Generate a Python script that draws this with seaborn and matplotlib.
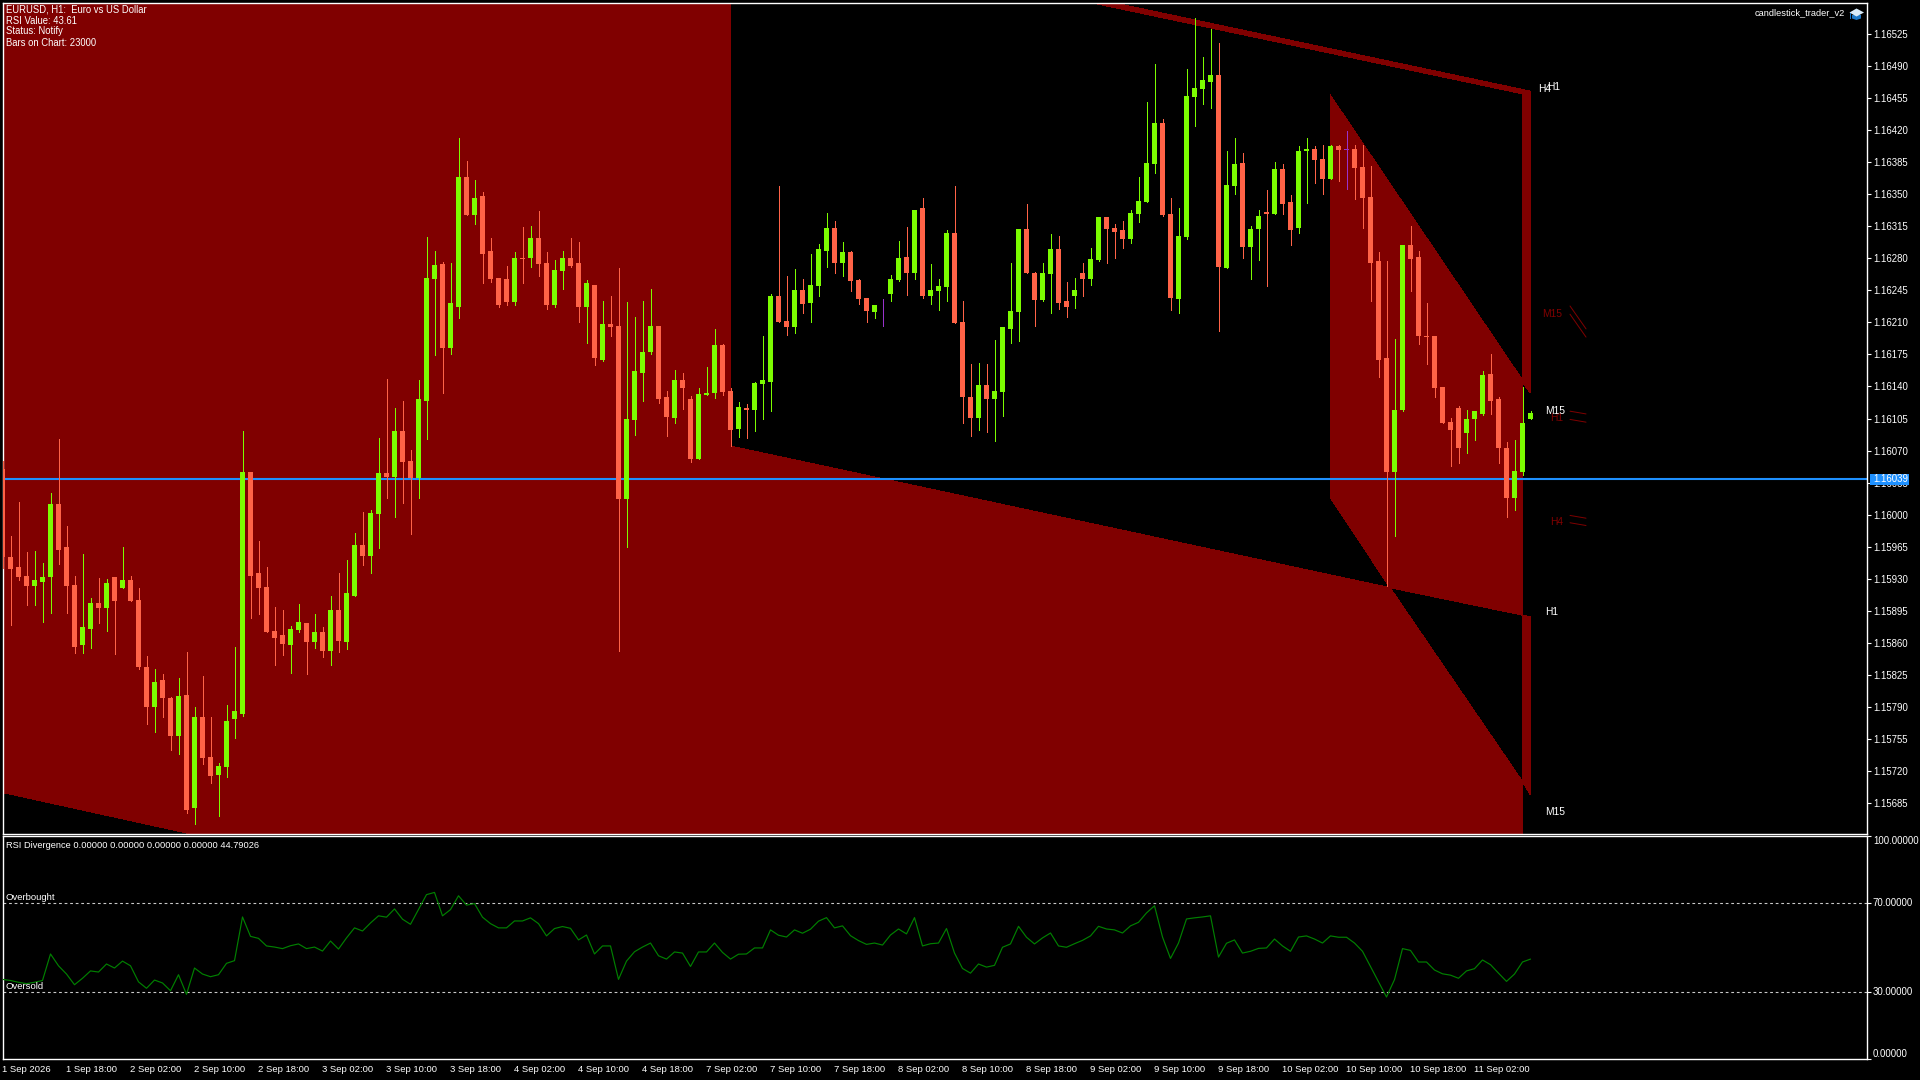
import numpy as np
import pandas as pd
import matplotlib
matplotlib.use("Agg")
import matplotlib.pyplot as plt
from matplotlib.patches import Polygon, Rectangle
import seaborn as sns

# ---- data (prices in points, 1 point = 0.00001) ----
highs = [116059,115977,116014,115959,115960,115947,116024,116083,115988,115933,
115957,115909,115931,115929,115932,115964,115933,115920,115845,115831,
115826,115800,115821,115850,115790,115823,115779,115728,115792,115855,
116091,116046,115971,115943,115899,115896,115878,115902,115881,115891,
115877,115911,115936,115950,115980,116003,116005,116084,116148,116116,
116124,116071,116147,116303,116288,116276,116275,116412,116387,116366,
116353,116302,116259,116272,116287,116314,116316,116332,116287,116278,
116288,116302,116298,116256,116251,116233,116239,116270,116232,116216,
116233,116247,116206,116135,116158,116155,116130,116138,116161,116203,
116187,116138,116123,116121,116145,116195,116241,116359,116261,116268,
116257,116285,116296,116330,116321,116298,116288,116258,116237,116229,
116236,116262,116299,116314,116333,116346,116274,116258,116311,116359,
116234,116165,116166,116165,116191,116205,116275,116312,116339,116265,
116275,116307,116305,116254,116259,116275,116291,116325,116325,116318,
116321,116333,116369,116451,116493,116433,116346,116335,116487,116543,
116500,116531,116516,116398,116412,116395,116316,116333,116355,116385,
116383,116349,116403,116412,116403,116404,116404,116404,116419,116404,
116404,116381,116287,116277,116192,116295,116316,116288,116231,116195,
116139,116106,116119,116114,116113,116157,116176,116128,116079,116081,116139,116113]
lows = [115942,115879,115928,115901,115901,115882,115892,115946,115892,115849,
115849,115854,115881,115873,115847,115920,115905,115831,115771,115762,
115779,115742,115738,115674,115662,115727,115706,115670,115713,115756,
115780,115887,115891,115872,115835,115846,115827,115872,115826,115854,
115844,115836,115850,115853,115911,115945,115936,115963,116018,115997,
116013,115979,116018,116083,116174,116133,116175,116215,116327,116318,
116253,116254,116227,116229,116229,116253,116271,116261,116225,116227,
116247,116271,116211,116188,116163,116168,116195,115851,115964,116087,
116124,116176,116122,116086,116100,116115,116057,116061,116131,116127,
116131,116075,116085,116084,116091,116104,116113,116210,116196,116199,
116220,116210,116239,116271,116264,116261,116244,116230,116211,116215,
116206,116234,116255,116240,116258,116237,116230,116224,116234,116209,
116100,116086,116092,116090,116080,116108,116188,116190,116264,116206,
116234,116220,116225,116216,116226,116239,116251,116277,116275,116280,
116291,116297,116320,116342,116373,116326,116224,116220,116301,116425,
116449,116445,116201,116270,116350,116281,116258,116278,116250,116329,
116329,116295,116308,116341,116363,116351,116367,116365,116356,116345,
116313,116234,116150,115922,115977,116113,116244,116186,116165,116128,
116100,116053,116056,116067,116082,116109,116110,116056,115997,116005,116043,116104]
opens = [116050,115954,115943,115933,115922,115926,115932,116011,115964,115923,
115857,115875,115903,115898,115932,115920,115928,115907,115833,115790,
115819,115799,115758,115803,115679,115779,115735,115715,115724,115776,
115782,116046,115936,115921,115873,115868,115857,115874,115881,115861,
115872,115851,115896,115861,115911,115967,115955,116001,116045,116041,
116091,116058,116040,116124,116258,116274,116182,116227,116369,116328,
116348,116288,116259,116257,116232,116281,116280,116302,116275,116229,
116266,116281,116275,116227,116251,116169,116208,116206,116017,116103,
116155,116178,116206,116129,116106,116147,116126,116061,116131,116133,
116185,116135,116093,116117,116114,116143,116145,116239,116212,116205,
116246,116231,116250,116288,116313,116275,116287,116256,116237,116221,
116222,116241,116256,116282,116264,116335,116239,116244,116249,116308,
116210,116129,116106,116142,116126,116134,116203,116221,116312,116264,
116235,116263,116290,116234,116239,116264,116258,116278,116325,116313,
116311,116301,116329,116342,116383,116428,116329,116236,116303,116457,
116465,116473,116481,116270,116359,116384,116293,116312,116331,116329,
116378,116342,116313,116397,116400,116389,116367,116403,116399,116400,
116380,116347,116277,116171,116046,116114,116295,116282,116195,116195,
116139,116101,116117,116089,116104,116110,116154,116126,116073,116018,116047,116104]
closes = [115954,115940,115932,115922,115928,115932,116012,115961,115922,115855,
115877,115903,115898,115925,115905,115928,115905,115833,115790,115817,
115799,115758,115802,115677,115779,115734,115714,115725,115774,115785,
116046,115933,115920,115872,115865,115858,115875,115883,115861,115872,
115851,115896,115862,115914,115967,115955,116002,116045,116041,116091,
116057,116040,116126,116259,116273,116182,116231,116369,116328,116346,
116285,116257,116229,116232,116281,116279,116302,116274,116229,116267,
116280,116272,116227,116253,116171,116208,116205,116017,116104,116157,
116178,116206,116126,116107,116147,116138,116061,116132,116133,116185,
116134,116092,116118,116114,116144,116147,116239,116210,116205,116246,
116230,116251,116290,116313,116275,116287,116255,116236,116222,116229,
116222,116257,116280,116264,116333,116239,116246,116250,116308,116209,
116128,116106,116142,116126,116135,116205,116222,116312,116264,116235,
116264,116290,116231,116227,116245,116258,116279,116325,116312,116309,
116301,116330,116343,116384,116428,116327,116237,116304,116458,116466,
116475,116481,116271,116360,116383,116293,116312,116326,116329,116378,
116339,116311,116397,116400,116388,116367,116403,116399,116399,116379,
116346,116275,116169,116046,116114,116295,116279,116195,116194,116138,
116100,116092,116073,116104,116113,116153,116124,116073,116018,116048,116100,116111]
rsi = [35.7,35.2,34.4,33.8,34.4,35.2,47.1,41.8,38.1,33.3,36.2,39.5,39.0,42.6,40.8,43.9,41.8,34.6,31.7,35.4,
34.1,30.6,37.8,29.0,40.8,38.1,36.9,37.8,42.9,44.1,63.7,55.0,54.1,50.7,50.2,49.5,50.8,51.6,49.5,50.2,
48.4,52.9,49.3,54.3,58.8,57.4,61.0,64.2,63.6,67.3,62.7,60.4,67.0,73.7,74.7,64.2,67.0,73.2,69.0,69.7,
63.6,60.7,58.8,58.8,61.9,61.9,63.3,60.7,55.2,58.5,59.4,58.6,53.4,55.6,47.1,50.7,50.7,35.7,43.9,48.1,
50.2,52.0,46.3,44.8,48.0,47.5,41.5,48.0,48.0,52.0,47.8,44.8,47.0,47.1,49.8,49.8,57.9,
55.5,54.7,57.9,56.4,58.2,61.8,63.4,58.8,59.7,55.3,53.1,51.4,52.0,51.1,55.6,58.3,56.1,63.4,50.7,51.7,
52.0,58.5,47.5,40.6,38.5,42.6,41.2,42.0,50.1,51.6,59.5,54.6,51.6,54.3,56.5,50.7,50.1,51.7,53.2,55.2,
59.5,58.3,57.9,56.5,59.7,61.3,65.5,68.7,54.7,45.1,52.0,62.8,63.3,63.7,64.2,45.7,51.9,53.4,47.5,48.3,
49.6,49.8,53.8,50.7,48.3,54.7,55.2,53.8,52.0,55.2,54.6,54.6,52.0,48.3,41.5,34.8,27.8,35.6,49.5,48.7,
43.5,43.5,39.9,38.2,37.6,36.2,39.5,40.5,44.4,42.3,38.5,34.8,38.1,43.5,44.8]
time_labels = ["1 Sep 2026","1 Sep 18:00","2 Sep 02:00","2 Sep 10:00","2 Sep 18:00","3 Sep 02:00",
"3 Sep 10:00","3 Sep 18:00","4 Sep 02:00","4 Sep 10:00","4 Sep 18:00","7 Sep 02:00","7 Sep 10:00",
"7 Sep 18:00","8 Sep 02:00","8 Sep 10:00","8 Sep 18:00","9 Sep 02:00","9 Sep 10:00","9 Sep 18:00",
"10 Sep 02:00","10 Sep 10:00","10 Sep 18:00","11 Sep 02:00"]
price_ticks = [116525 - 35*k for k in range(25)]
rsi_ticks = [100, 70, 30, 0]
bid = 116039

# channel regions as (bar, points)
region_main = ([0.06,90.94,90.94,173.44,190,190,23.44,0.06],
               [116559,116559,116075,115920,115708,115640,115651,115696])
region_m15 = ([165.94,190,190,173.44,165.94],[116459,116147,115890,115920,116019])
region_top = ([136.44,139.2,190.94,190],[116559,116559,116463,116460])
region_strip_up = ([190,190.94,190.94,190],[116460,116463,116133,116145])
region_strip_dn = ([190,190.94,190.94,190],[115890,115888,115694,115708])
mini_lines = [([195.94,197.94],[116228,116203]),([195.94,197.94],[116219,116194]),
              ([195.94,197.94],[116113,116110]),([195.94,197.94],[116104,116101]),
              ([195.94,197.94],[115999,115996]),([195.94,197.94],[115991,115988])]
dark_labels = [("M15",192.44,116219),("H1",193.44,116106),("H4",193.44,115992)]
white_labels = [("H4",191.94,116465),("H1",193.06,116467),("M15",192.85,116113),
                ("H1",192.85,115893),("M15",192.85,115675)]

BULL, BEAR, DOJI, RED = "#7CFC00", "#FF6347", "#9932CC", "#800000"
W, H = 1920, 1080
FONT = "Liberation Sans"

sns.set_theme(style="dark", rc={"axes.facecolor":"black","figure.facecolor":"black",
                                "text.color":"white","xtick.color":"white","ytick.color":"white"})
plt.rcParams["font.family"] = [FONT, "DejaVu Sans"]

fig = plt.figure(figsize=(W/100, H/100), dpi=100)
def box(l, t, r, b):
    return [l/W, 1-b/H, (r-l)/W, (b-t)/H]
ax = fig.add_axes(box(2.5, 3, 1867, 834))
ax2 = fig.add_axes(box(2.5, 836, 1867, 1059))
XMAX = (1867-2.5)/8

df = pd.DataFrame({"bar":np.arange(len(opens)),"o":np.array(opens)/1e5,"h":np.array(highs)/1e5,
                   "l":np.array(lows)/1e5,"c":np.array(closes)/1e5})
df["color"] = np.where(df.c > df.o, BULL, np.where(df.c < df.o, BEAR, DOJI))
df["top"] = df[["o","c"]].max(axis=1)
df["bot"] = df[["o","c"]].min(axis=1)

for reg in (region_main, region_m15, region_top, region_strip_up, region_strip_dn):
    ax.fill(reg[0], np.array(reg[1])/1e5, color=RED, lw=0, zorder=1, antialiased=False)

ax.axhline(bid/1e5, color="#1E90FF", lw=1.5, zorder=2)
ax.vlines(df.bar, df.l, df.h, colors=df.color, lw=0.72, zorder=3, antialiased=False)
ax.bar(df.bar, np.maximum(df.top-df.bot, 1.0e-5), bottom=df.bot, width=5/8, color=df.color,
       lw=0, zorder=4, antialiased=False)

for xs, ys in mini_lines:
    ax.plot(xs, np.array(ys)/1e5, color=RED, lw=0.7, zorder=2, clip_on=False)
for s, x, y in dark_labels:
    ax.text(x, y/1e5, s, color=RED, fontsize=7.4, va="center", ha="left", zorder=5)
for s, x, y in white_labels:
    ax.text(x, y/1e5, s, color="white", fontsize=7.4, va="center", ha="left", zorder=6)

ax.set_xlim(0, XMAX)
ax.set_ylim(115650.7/1e5, 116559.3/1e5)
ax.set_xticks([])
ax.yaxis.tick_right()
ax.set_yticks(np.array(price_ticks)/1e5)
ax.set_yticklabels([f"{p/1e5:.5f}" for p in price_ticks], fontsize=6.9)
ax.tick_params(axis="y", length=3.2, width=0.8, pad=1.0, color="white")

# price tag
fig.add_artist(Rectangle((1870/W, 1-484.5/H), 39/W, 10/H, transform=fig.transFigure, color="#1E90FF", lw=0))
fig.text(1873/W, 1-479.5/H, f"{bid/1e5:.5f}", color="white", fontsize=6.9, va="center", ha="left")

# RSI panel
sns.lineplot(x=np.arange(len(rsi)), y=rsi, ax=ax2, color="#008000", lw=0.85, errorbar=None, zorder=3)
for lvl in (70, 30):
    ax2.axhline(lvl, color="#C8C8C8", lw=0.8, ls=(0, (2.5, 2.5)), zorder=2)
ax2.set_xlim(0, XMAX)
ax2.set_ylim(0, 100)
ax2.set_xlabel(""); ax2.set_ylabel("")
ax2.yaxis.tick_right()
ax2.set_yticks(rsi_ticks)
ax2.set_yticklabels([f"{v:.5f}" for v in rsi_ticks], fontsize=6.9)
for lab, v in zip(ax2.get_yticklabels(), rsi_ticks):
    lab.set_va("top" if v == 100 else ("bottom" if v == 0 else "center"))
ax2.tick_params(axis="y", length=3.2, width=0.8, pad=1.0, color="white")
ax2.set_xticks(np.arange(0, len(time_labels)*8, 8))
ax2.set_xticklabels(time_labels, fontsize=6.8, ha="left")
ax2.tick_params(axis="x", length=3.2, width=0.8, pad=1.0, color="white")
for a in (ax, ax2):
    a.grid(False)
    for sp in a.spines.values():
        sp.set_color("white"); sp.set_linewidth(1.0); sp.set_visible(True)

# texts
for s, y in zip(["EURUSD, H1:  Euro vs US Dollar","RSI Value: 43.61","Status: Notify","Bars on Chart: 23000"],
                [9.5, 20.5, 31.5, 42.5]):
    fig.text(6.5/W, 1-y/H, s, color="white", fontsize=6.85, va="center", ha="left")
fig.text(5.5/W, 1-845.7/H, "RSI Divergence 0.00000 0.00000 0.00000 0.00000 44.79026", color="white",
         fontsize=6.7, va="center", ha="left")
fig.text(5.5/W, 1-897.7/H, "Overbought", color="white", fontsize=6.8, va="center", ha="left")
fig.text(5.5/W, 1-986.7/H, "Oversold", color="white", fontsize=6.8, va="center", ha="left")
fig.text(1845/W, 1-13/H, "candlestick_trader_v2", color="white", fontsize=6.65, va="center", ha="right")

# small cap icon
def poly(pts, c):
    fig.add_artist(Polygon([(x/W, 1-y/H) for x, y in pts], closed=True, transform=fig.transFigure, color=c, lw=0))
poly([(1852,15),(1861,15),(1861,18.5),(1856.5,20),(1852,18.5)], "#1C78C8")
poly([(1849.5,12.5),(1856.5,8.5),(1864,12.5),(1856.5,16.5)], "#D8ECFA")
poly([(1850,13),(1851,13),(1851,19),(1850,19)], "#1C78C8")

fig.savefig("out.png", dpi=100, facecolor="black")
